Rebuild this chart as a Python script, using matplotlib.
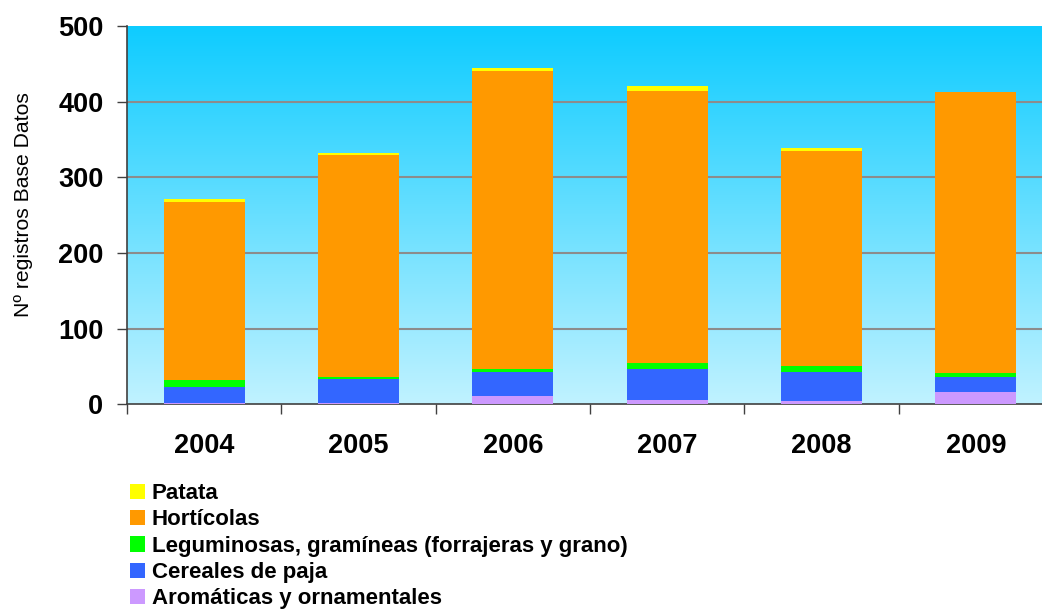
import numpy as np
import matplotlib
matplotlib.use("Agg")
import matplotlib.pyplot as plt
from matplotlib.patches import Patch

plt.rcParams['font.family'] = ['Liberation Sans', 'DejaVu Sans']

years = ["2004", "2005", "2006", "2007", "2008", "2009"]
aromaticas = [2, 2, 11, 6, 5, 16]
cereales = [21, 32, 32, 41, 38, 20]
leguminosas = [9, 1.5, 4, 8, 8, 5]
horticolas = [236, 294, 394, 359, 284, 372]
patata = [3, 3, 4, 7, 4, 0]

series = [
    ("Aromáticas y ornamentales", aromaticas, "#CC99FF"),
    ("Cereales de paja", cereales, "#3366FF"),
    ("Leguminosas, gramíneas (forrajeras y grano)", leguminosas, "#00FF00"),
    ("Hortícolas", horticolas, "#FF9900"),
    ("Patata", patata, "#FFFF00"),
]

fig = plt.figure(figsize=(10.42, 6.10), dpi=100)
ax = fig.add_axes([0.1219, 0.3372, 0.8887, 0.6202])

# fondo degradado
top = np.array([14, 204, 255]) / 255
bot = np.array([192, 242, 255]) / 255
t = np.linspace(0, 1, 256)[:, None]
grad = top * (1 - t) + bot * t
ax.imshow(grad[:, None, :], extent=[-0.5, 5.5, 0, 500], aspect='auto', zorder=0)

x = np.arange(len(years))
bottom = np.zeros(len(years))
handles = []
for name, vals, col in series:
    ax.bar(x, vals, width=0.525, bottom=bottom, color=col, zorder=3)
    bottom += np.array(vals)
    handles.append(Patch(facecolor=col, label=name))

ax.set_xlim(-0.5, 5.5)
ax.set_ylim(0, 500)
ax.set_yticks(range(0, 501, 100))
# líneas de cuadrícula (sin la del 500)
for yv in range(100, 500, 100):
    ax.axhline(yv, color="#8c8c8c", linewidth=1.5, zorder=1)

ax.set_xticks(x)
ax.set_xticklabels(years, fontsize=19.5, fontweight='bold')
ax.set_xticks(np.arange(-0.5, 6, 1), minor=True)
ax.tick_params(axis='x', which='major', length=0, pad=21)
ax.tick_params(axis='x', which='minor', length=7, width=1, color="#404040")
ax.tick_params(axis='y', length=7, width=1, color="#404040", pad=10)
for lab in ax.get_yticklabels():
    lab.set_fontsize(19.5)
    lab.set_fontweight('bold')

for side in ['top', 'right']:
    ax.spines[side].set_visible(False)
for side in ['left', 'bottom']:
    ax.spines[side].set_color("#404040")
    ax.spines[side].set_linewidth(1.2)

fig.text(0.023, 0.664, "Nº registros Base Datos", rotation=90, fontsize=15.2,
         ha='center', va='center')

fig.legend(handles=handles[::-1], loc='upper left', bbox_to_anchor=(0.1245, 0.208),
           frameon=False, prop={'weight': 'bold', 'size': 16},
           handlelength=0.68, handleheight=0.68, handletextpad=0.3,
           labelspacing=0.24, borderaxespad=0, borderpad=0)

fig.savefig("out.png", dpi=100)
